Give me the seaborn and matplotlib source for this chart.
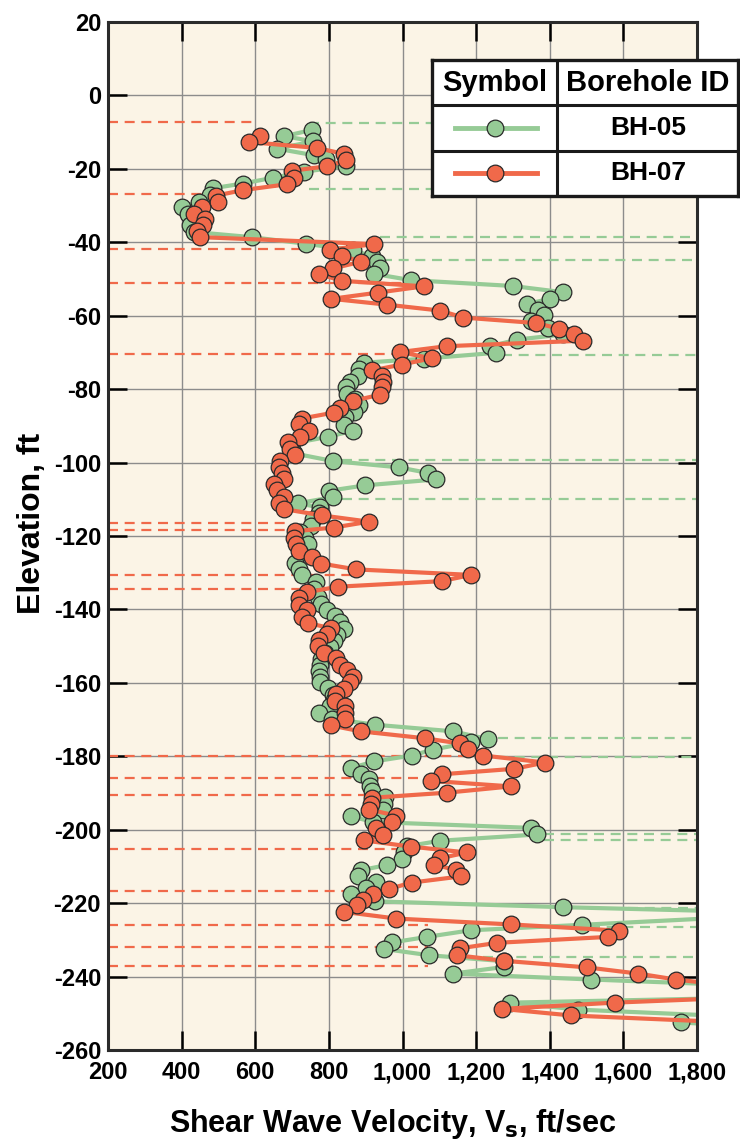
import numpy as np
import pandas as pd
import matplotlib
matplotlib.use('Agg')
import matplotlib.pyplot as plt
import seaborn as sns

# shear wave velocity profiles (elevation ft, Vs ft/sec)
bh05_elev = [-9.4, -11.1, -12.5, -14.5, -16.3, -17.4, -19.2, -20.8, -22.4, -24.0,
             -25.3, -27.0, -28.9, -30.5, -32.2, -35.4, -37.2, -38.6, -40.4, -42.2,
             -43.8, -45.4, -46.9, -48.6, -50.3, -51.9, -53.6, -55.4, -56.8, -58.4,
             -59.7, -61.5, -63.3, -65.1, -66.5, -68.3, -70.1, -71.7, -72.8, -74.6,
             -76.3, -78.0, -79.5, -81.2, -82.8, -84.4, -86.2, -87.7, -89.7, -91.3,
             -93.0, -94.8, -97.5, -99.6, -101.3, -102.8, -104.6, -106.2, -107.7, -109.4,
             -111.1, -112.2, -113.6, -115.5, -117.3, -118.9, -120.5, -122.3, -124.5, -127.3,
             -129.0, -130.6, -132.5, -134.3, -136.5, -138.5, -140.2, -141.8, -143.4, -145.2,
             -146.9, -148.6, -150.2, -151.9, -153.6, -155.1, -156.8, -158.4, -159.9, -161.5,
             -163.2, -164.6, -166.4, -168.2, -169.8, -171.4, -173.2, -175.3, -176.2, -178.2,
             -179.8, -181.4, -183.2, -184.7, -186.3, -188.0, -189.5, -191.2, -193.0, -194.6,
             -196.4, -197.9, -199.5, -201.3, -203.0, -204.5, -206.2, -208.0, -209.6, -211.0,
             -212.6, -214.3, -216.0, -217.6, -219.5, -221.1, -222.8, -225.9, -227.4, -229.2,
             -230.7, -232.5, -234.2, -235.8, -237.4, -239.2, -240.8, -244.6, -247.1, -249.0,
             -251.3, -252.5, -254.0]
bh05_vs = [754, 679, 758, 659, 760, 792, 846, 733, 649, 566,
           484, 478, 446, 401, 416, 424, 434, 590, 738, 866,
           918, 930, 939, 923, 1022, 1299, 1436, 1400, 1338, 1369,
           1384, 1348, 1395, 1436, 1312, 1239, 1255, 1058, 895, 882,
           878, 858, 847, 849, 870, 881, 867, 845, 840, 866,
           798, 700, 705, 812, 990, 1068, 1091, 899, 799, 812,
           715, 776, 773, 757, 752, 721, 735, 742, 722, 709,
           720, 728, 765, 760, 770, 778, 794, 816, 830, 840,
           822, 815, 804, 790, 778, 775, 773, 777, 777, 797,
           810, 814, 803, 773, 809, 925, 1137, 1231, 1185, 1082,
           1025, 923, 860, 888, 909, 913, 916, 953, 950, 948,
           861, 921, 1349, 1365, 1103, 1012, 1005, 999, 959, 888,
           880, 928, 900, 859, 924, 1436, 2100, 1488, 1185, 1066,
           972, 951, 1073, 1275, 1275, 1136, 1512, 2500, 1293, 1477,
           2000, 1757, 2000]

bh07_elev = [-11.1, -12.7, -14.3, -15.9, -17.7, -19.3, -20.5, -22.4, -24.2, -25.8,
             -27.3, -29.1, -30.4, -32.3, -33.7, -35.4, -37.0, -38.6, -40.5, -42.0,
             -43.6, -45.3, -47.1, -48.7, -50.5, -52.0, -53.7, -55.4, -57.0, -58.6,
             -60.5, -62.0, -63.5, -65.1, -66.8, -68.3, -69.9, -71.6, -73.3, -74.9,
             -76.4, -78.1, -79.5, -81.5, -83.2, -85.0, -86.4, -88.0, -89.5, -91.5,
             -93.0, -94.5, -96.2, -98.0, -99.6, -101.3, -102.8, -104.6, -105.9, -107.6,
             -109.3, -110.9, -112.7, -114.4, -116.1, -117.7, -118.7, -120.5, -122.1, -124.2,
             -125.8, -127.5, -129.1, -130.6, -132.3, -133.8, -135.3, -137.0, -138.7, -140.1,
             -142.0, -143.7, -145.1, -146.8, -148.3, -150.0, -151.9, -153.3, -155.1, -156.6,
             -158.3, -159.9, -161.7, -163.1, -164.9, -166.4, -168.1, -169.9, -171.6, -173.2,
             -175.1, -176.5, -178.1, -179.8, -181.7, -183.4, -184.9, -186.7, -188.2, -189.9,
             -191.3, -192.9, -194.5, -196.2, -198.0, -199.6, -201.4, -202.9, -204.6, -206.2,
             -207.8, -209.5, -211.0, -212.7, -214.4, -216.1, -217.6, -219.2, -220.6, -222.4,
             -224.2, -225.8, -227.5, -229.2, -230.8, -232.3, -234.2, -235.7, -237.5, -239.2,
             -240.8, -242.0, -246.0, -247.1, -248.8, -250.6, -252.5]
bh07_vs = [614, 584, 767, 840, 846, 795, 701, 706, 686, 566,
           493, 500, 454, 434, 463, 457, 443, 451, 923, 804,
           835, 887, 812, 773, 837, 1058, 934, 807, 959, 1102,
           1165, 1363, 1424, 1467, 1490, 1120, 993, 1079, 998, 917,
           944, 948, 944, 940, 865, 831, 813, 726, 719, 746,
           722, 688, 694, 707, 668, 665, 674, 678, 651, 658,
           677, 664, 679, 782, 909, 813, 708, 704, 711, 719,
           755, 779, 874, 1187, 1106, 826, 741, 720, 720, 741,
           726, 742, 805, 795, 774, 771, 786, 819, 830, 849,
           865, 858, 841, 818, 817, 845, 843, 843, 805, 886,
           1061, 1155, 1179, 1220, 1387, 1304, 1108, 1078, 1295, 1122,
           918, 915, 910, 983, 972, 927, 948, 895, 1022, 1175,
           1101, 1085, 1146, 1160, 1025, 964, 920, 893, 876, 842,
           983, 1295, 1589, 1558, 1258, 1156, 1149, 1275, 1501, 1641,
           1742, 1850, 1850, 1576, 1270, 1459, 1900]

# layer boundary markers (dashed)
red_dash_elev = [-7.2, -26.9, -41.8, -51.1, -70.5, -116.5, -118.4, -130.7, -134.3,
                 -180.0, -185.8, -190.5, -205.2, -216.6, -226.0, -232.0, -237.1]
red_dash_end = [590, 460, 760, 1000, 980, 695, 695, 866, 721,
                1210, 1063, 907, 1001, 856, 1068, 1068, 1068]
green_dash_elev = [-7.5, -25.5, -38.5, -44.8, -70.8, -99.2, -110.0, -174.9, -180.2,
                   -201.1, -202.7, -221.2, -226.5, -234.7]
green_dash_start = [747, 747, 939, 944, 1270, 835, 835, 1260, 1260,
                    1384, 1384, 1612, 1509, 1218]

boreholes = ['BH-05', 'BH-07']
x_ticks = [200, 400, 600, 800, 1000, 1200, 1400, 1600, 1800]
x_labels = ['200', '400', '600', '800', '1,000', '1,200', '1,400', '1,600', '1,800']
y_ticks = list(range(-260, 21, 20))

green = '#96cb96'
red = '#f0694a'
pal = {'BH-05': green, 'BH-07': red}

plt.rcParams['font.family'] = ['Liberation Sans', 'DejaVu Sans']
plt.rcParams['font.weight'] = 'bold'
plt.rcParams['axes.unicode_minus'] = False

df = pd.concat([
    pd.DataFrame({'vs': bh05_vs, 'elev': bh05_elev, 'bh': 'BH-05'}),
    pd.DataFrame({'vs': bh07_vs, 'elev': bh07_elev, 'bh': 'BH-07'}),
], ignore_index=True)

fig = plt.figure(figsize=(7.4, 11.41), dpi=100)
ax = fig.add_axes([108/740, 1-1050/1141, (697-108)/740, (1050-22)/1141])
ax.set_facecolor('#fbf4e6')

for e, x1 in zip(red_dash_elev, red_dash_end):
    ax.plot([200, x1], [e, e], color=red, lw=1.6, dashes=(4.5, 3), zorder=2)
for e, x0 in zip(green_dash_elev, green_dash_start):
    ax.plot([x0, 1800], [e, e], color=green, lw=1.6, dashes=(4.5, 3), zorder=2)

sns.lineplot(data=df, x='vs', y='elev', hue='bh', hue_order=boreholes, palette=pal,
             sort=False, estimator=None, marker='o', markersize=12,
             markeredgecolor='#2a2a2a', markeredgewidth=0.9, linewidth=3,
             legend=False, ax=ax, zorder=3)

ax.set_xlim(200, 1800)
ax.set_ylim(-260, 20)
ax.set_xticks(x_ticks)
ax.set_xticklabels(x_labels)
ax.set_yticks(y_ticks)
ax.grid(True, color='#8c8c8c', linewidth=1.0)
ax.set_axisbelow(True)
ax.tick_params(direction='in', length=14, width=1.8, top=True, right=True,
               labelsize=17, color='black')
ax.tick_params(axis='x', pad=8)
ax.tick_params(axis='y', pad=5)
for s in ax.spines.values():
    s.set_linewidth(2.2)
    s.set_color('#2b2b2b')
    s.set_zorder(5)

ax.set_xlabel('Shear Wave Velocity, V$_\\mathbf{s}$, ft/sec', fontsize=22,
              fontweight='bold')
ax.set_ylabel('Elevation, ft', fontsize=23, fontweight='bold')
ax.xaxis.set_label_coords(0.483, -0.055)
ax.yaxis.set_label_coords(-0.104, 0.512)

# legend table
lg = fig.add_axes([432/740, 1-196/1141, (738-432)/740, (196-60)/1141])
lg.set_xlim(0, 1)
lg.set_ylim(0, 1)
lg.set_facecolor('white')
lg.set_xticks([])
lg.set_yticks([])
for s in lg.spines.values():
    s.set_linewidth(2.4)
    s.set_color('#1a1a1a')
lg.axvline(0.41, color='#1a1a1a', lw=2.2)
lg.axhline(0.669, color='#1a1a1a', lw=2.2)
lg.axhline(0.333, color='#1a1a1a', lw=2.2)
lg.text(0.205, 0.83, 'Symbol', ha='center', va='center', fontsize=21, fontweight='bold')
lg.text(0.706, 0.83, 'Borehole ID', ha='center', va='center', fontsize=21, fontweight='bold')
for yy, b in zip([0.5, 0.167], boreholes):
    lg.plot([0.075, 0.343], [yy, yy], color=pal[b], lw=3.5)
    lg.plot([0.205], [yy], marker='o', markersize=12, color=pal[b],
            markeredgecolor='#2a2a2a', markeredgewidth=0.9)
    lg.text(0.706, yy, b, ha='center', va='center', fontsize=19, fontweight='bold')

fig.savefig('out.png', dpi=100)
